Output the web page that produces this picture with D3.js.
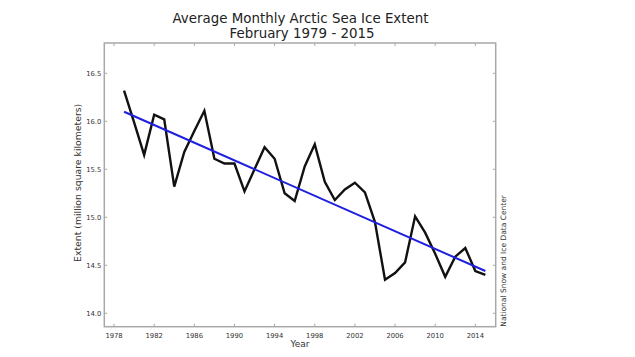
<!DOCTYPE html>
<html><head><meta charset="utf-8">
<script src="https://cdn.jsdelivr.net/npm/d3@7"></script>
<style>
html,body{margin:0;padding:0;background:#fff;}
svg{display:block;font-family:"DejaVu Sans",sans-serif;}
</style></head>
<body>
<svg id="c" width="635" height="357"></svg>
<script>
const years = [1979,1980,1981,1982,1983,1984,1985,1986,1987,1988,1989,1990,1991,1992,1993,1994,1995,1996,1997,1998,1999,2000,2001,2002,2003,2004,2005,2006,2007,2008,2009,2010,2011,2012,2013,2014,2015];
const extent = [16.32,15.99,15.65,16.07,16.02,15.32,15.68,15.90,16.11,15.61,15.56,15.56,15.27,15.50,15.73,15.61,15.25,15.17,15.53,15.76,15.37,15.18,15.29,15.36,15.26,14.95,14.35,14.42,14.53,15.01,14.84,14.62,14.38,14.59,14.68,14.44,14.40];
const trendYears = [1979,2015];
const trendValues = [16.10,14.44];
const xTicks = [1978,1982,1986,1990,1994,1998,2002,2006,2010,2014];
const yTicks = [14.0,14.5,15.0,15.5,16.0,16.5];
const titleLines = ["Average Monthly Arctic Sea Ice Extent","February 1979 - 2015"];

const svg = d3.select("#c");
const L=104.3, R=495.7, T=43, B=326.7;
const x = d3.scaleLinear().domain([1977.03,2016.03]).range([L,R]);
const y = d3.scaleLinear().domain([13.86,16.816]).range([B,T]);
const spine="#a8a8a8", txt="#333";

const g = svg.append("g");
const tickLen=3;
xTicks.forEach(t=>{
  g.append("line").attr("x1",x(t)).attr("x2",x(t)).attr("y1",B).attr("y2",B-tickLen).attr("stroke",spine).attr("stroke-width",1);
  g.append("line").attr("x1",x(t)).attr("x2",x(t)).attr("y1",T).attr("y2",T+tickLen).attr("stroke",spine).attr("stroke-width",1);
  g.append("text").attr("x",x(t)).attr("y",B+11).attr("text-anchor","middle").attr("font-size",6.8).attr("fill",txt).text(t);
});
yTicks.forEach(t=>{
  g.append("line").attr("x1",L).attr("x2",L+tickLen).attr("y1",y(t)).attr("y2",y(t)).attr("stroke",spine).attr("stroke-width",1);
  g.append("line").attr("x1",R).attr("x2",R-tickLen).attr("y1",y(t)).attr("y2",y(t)).attr("stroke",spine).attr("stroke-width",1);
  g.append("text").attr("x",L-3).attr("y",y(t)+2.4).attr("text-anchor","end").attr("font-size",6.8).attr("fill",txt).text(t.toFixed(1));
});

const line = d3.line().x((d,i)=>x(years[i])).y(d=>y(d));
svg.append("path").datum(extent).attr("d",line).attr("fill","none").attr("stroke","#111").attr("stroke-width",2.4).attr("stroke-linejoin","miter");
const tline = d3.line().x((d,i)=>x(trendYears[i])).y(d=>y(d));
svg.append("path").datum(trendValues).attr("d",tline).attr("fill","none").attr("stroke","#1f1fe0").attr("stroke-width",2);

svg.append("rect").attr("x",L).attr("y",T).attr("width",R-L).attr("height",B-T).attr("fill","none").attr("stroke",spine).attr("stroke-width",1.5);

svg.append("text").attr("x",300.5).attr("y",22.5).attr("text-anchor","middle").attr("font-size",13.4).attr("fill","#222").text(titleLines[0]);
svg.append("text").attr("x",302).attr("y",38).attr("text-anchor","middle").attr("font-size",13.4).attr("fill","#222").text(titleLines[1]);

svg.append("text").attr("x",300).attr("y",347).attr("text-anchor","middle").attr("font-size",9).attr("fill",txt).text("Year");
svg.append("text").attr("transform",`translate(81,${(T+B)/2-2}) rotate(-90)`).attr("text-anchor","middle").attr("font-size",9.3).attr("fill",txt).text("Extent (million square kilometers)");
svg.append("text").attr("transform",`translate(506,${B}) rotate(-90)`).attr("text-anchor","start").attr("font-size",7.5).attr("fill",txt).text("National Snow and Ice Data Center");
</script>
</body></html>
